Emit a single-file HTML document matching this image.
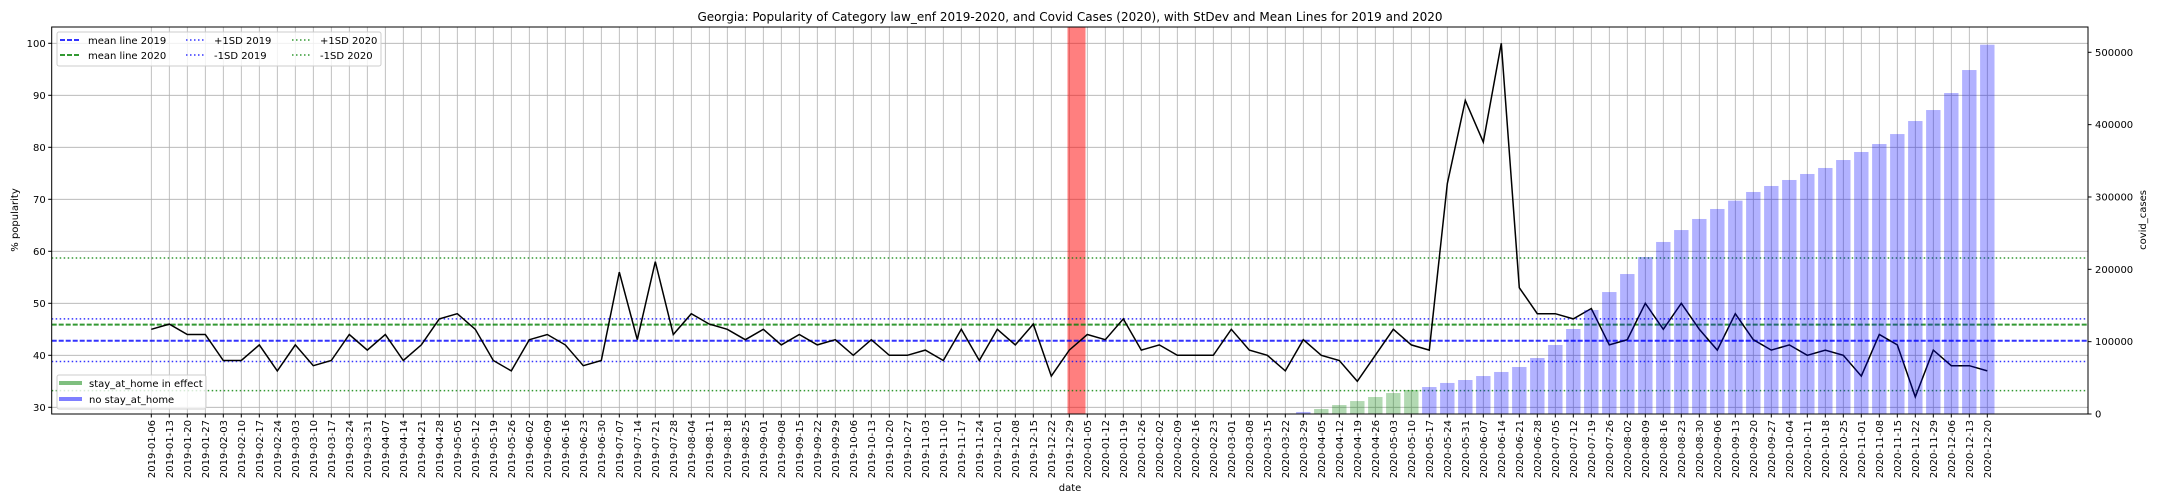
<!DOCTYPE html>
<html><head><meta charset="utf-8"><style>
html,body{margin:0;padding:0;background:#fff;}
svg{display:block;font-family:"DejaVu Sans","Liberation Sans",sans-serif;}
</style></head><body>
<svg id="chart" width="2160" height="504" xmlns="http://www.w3.org/2000/svg">
<rect x="0" y="0" width="2160" height="504" fill="#fff"/>
<text x="1070" y="21" font-size="12" text-anchor="middle">Georgia: Popularity of Category law_enf 2019-2020, and Covid Cases (2020), with StDev and Mean Lines for 2019 and 2020</text>
<g id="grid"></g>
<g id="marks"></g>
<g id="axes"></g>
<text x="1070" y="491" font-size="10" text-anchor="middle">date</text>
<text transform="translate(18,220) rotate(-90)" font-size="10" text-anchor="middle">% popularity</text>
<text transform="translate(2146,220) rotate(-90)" font-size="10" text-anchor="middle">covid_cases</text>
<g>
<rect x="57" y="32" width="324" height="34" fill="#fff" fill-opacity="0.8" stroke="#ccc" rx="2"/>
<g><line x1="60" y1="40" x2="80" y2="40" stroke="#0000ff" stroke-opacity="0.8" stroke-width="2" stroke-dasharray="5,2"/><text x="88" y="44" font-size="10">mean line 2019</text></g>
<g><line x1="60" y1="55" x2="80" y2="55" stroke="#008000" stroke-opacity="0.8" stroke-width="2" stroke-dasharray="5,2"/><text x="88" y="59" font-size="10">mean line 2020</text></g>
<g><line x1="186" y1="40" x2="204" y2="40" stroke="#0000ff" stroke-opacity="0.8" stroke-width="1.5" stroke-dasharray="1.5,2.5"/><text x="214" y="44" font-size="10">+1SD 2019</text></g>
<g><line x1="186" y1="55" x2="204" y2="55" stroke="#0000ff" stroke-opacity="0.8" stroke-width="1.5" stroke-dasharray="1.5,2.5"/><text x="214" y="59" font-size="10">-1SD 2019</text></g>
<g><line x1="292" y1="40" x2="310" y2="40" stroke="#008000" stroke-opacity="0.8" stroke-width="1.5" stroke-dasharray="1.5,2.5"/><text x="320" y="44" font-size="10">+1SD 2020</text></g>
<g><line x1="292" y1="55" x2="310" y2="55" stroke="#008000" stroke-opacity="0.8" stroke-width="1.5" stroke-dasharray="1.5,2.5"/><text x="320" y="59" font-size="10">-1SD 2020</text></g>
</g>
<g>
<rect x="57" y="375" width="149" height="34" fill="#fff" fill-opacity="0.8" stroke="#ccc" rx="2"/>
<g><line x1="59" y1="383" x2="82" y2="383" stroke="#008000" stroke-opacity="0.5" stroke-width="4"/><text x="89" y="387" font-size="10">stay_at_home in effect</text></g>
<g><line x1="59" y1="399" x2="82" y2="399" stroke="#0000ff" stroke-opacity="0.5" stroke-width="4"/><text x="89" y="403" font-size="10">no stay_at_home</text></g>
</g>
</svg>
<script>
const popularity = [45,46,44,44,39,39,42,37,42,38,39,44,41,44,39,42,47,48,45,39,37,43,44,42,38,39,
56,43,58,44,48,46,45,43,45,42,44,42,43,40,43,40,40,41,39,45,39,45,42,46,36,41,
44,43,47,41,42,40,40,40,45,41,40,37,43,40,39,35,40,45,42,41,73,89,81,100,53,48,48,47,49,42,43,50,45,50,45,41,48,43,41,42,40,41,40,36,44,42,32,41,38,38,37];
const covidCases = [2800,6900,12400,17900,23500,29000,33200,37300,42900,47000,52500,58100,65000,77400,95400,117500,143800,168600,193500,217000,237800,254300,269600,283400,294900,306900,315200,323500,331800,340100,351100,362200,373200,387000,405000,420200,443700,475500,510500];
const covidStartIndex = [64];
const stayAtHomeIdx = [65,66,67,68,69,70];
const statLines2019 = [42.8,47.0,38.8];
const statLines2020 = [45.9,58.7,33.2];
const leftTicks = [30,40,50,60,70,80,90,100];
const rightTicks = [0,100000,200000,300000,400000,500000];
const rightTickLabels = ["0","100000","200000","300000","400000","500000"];
const redSpanIdx = [50.9,51.9];

const NS="http://www.w3.org/2000/svg";
const L=51.7,R=2088,T=27,B=414;
function xPos(i){return 151.3+18*i;}
function yPop(v){return 407.3-(v-30)*5.2;}
function yCov(c){return 414-c*(361.7/500000);}
function mk(tag,attrs,parent){const e=document.createElementNS(NS,tag);for(const k in attrs)e.setAttribute(k,attrs[k]);parent.appendChild(e);return e;}
const grid=document.getElementById('grid'),marks=document.getElementById('marks'),axes=document.getElementById('axes');

const dates=[];
{let d=new Date(Date.UTC(2019,0,6));for(let i=0;i<popularity.length;i++){dates.push(d.toISOString().slice(0,10));d=new Date(d.getTime()+7*86400000);}}

for(let i=0;i<dates.length;i++){
  const g=mk('line',{x1:xPos(i),x2:xPos(i),y1:T,y2:B,stroke:'#b0b0b0','stroke-width':0.8},grid);
  
  
}
for(const v of leftTicks){
  const g=mk('line',{x1:L,x2:R,y1:yPop(v),y2:yPop(v),stroke:'#b0b0b0','stroke-width':0.8},grid);
  
  
}
// red span
const span=mk('rect',{x:xPos(redSpanIdx[0]),y:T,width:xPos(redSpanIdx[1])-xPos(redSpanIdx[0]),height:B-T,fill:'#ff0000','fill-opacity':0.5},marks);


// stat lines
const statDefs=[[statLines2019,'#0000ff'],[statLines2020,'#008000']];
statDefs.forEach(([arr,col],k)=>{
  arr.forEach((v,j)=>{
    const ln=mk('line',{x1:L,x2:R,y1:yPop(v),y2:yPop(v),stroke:col,'stroke-opacity':0.8,'stroke-width':j===0?2:1.5,'stroke-dasharray':j===0?'5,2':'1.5,2.5'},marks);
    
    
  });
});
// popularity line
const pts=popularity.map((v,i)=>xPos(i).toFixed(1)+','+yPop(v).toFixed(1)).join(' ');
const pl=mk('polyline',{points:pts,fill:'none',stroke:'#000','stroke-width':1.5,'stroke-linejoin':'miter'},marks);


// bars
covidCases.forEach((c,k)=>{
  const i=covidStartIndex[0]+k;
  const green=stayAtHomeIdx.includes(i);
  const b=mk('rect',{x:xPos(i)-7.2,y:yCov(c),width:14.4,height:B-yCov(c),fill:green?'#008000':'#0000ff','fill-opacity':0.3},marks);
  
  
});
// axes frame
const fr=mk('rect',{x:L,y:T,width:R-L,height:B-T,fill:'none',stroke:'#000','stroke-width':1},axes);


for(const v of leftTicks){
  const t=mk('line',{x1:L-3.5,x2:L,y1:yPop(v),y2:yPop(v),stroke:'#000'},axes);
  
  
  const tx=mk('text',{x:L-6,y:yPop(v)+3.5,'font-size':10,'text-anchor':'end'},axes);
  tx.textContent=v;
  
  
}
rightTicks.forEach((v,j)=>{
  const t=mk('line',{x1:R,x2:R+3.5,y1:yCov(v),y2:yCov(v),stroke:'#000'},axes);
  
  
  const tx=mk('text',{x:R+7,y:yCov(v)+3.5,'font-size':10},axes);
  tx.textContent=rightTickLabels[j];
  
  
});
dates.forEach((d,i)=>{
  const t=mk('line',{x1:xPos(i),x2:xPos(i),y1:B,y2:B+3.5,stroke:'#000'},axes);
  
  
  const tx=mk('text',{transform:`translate(${xPos(i)+3.5},${B+6}) rotate(-90)`,'font-size':10,'text-anchor':'end'},axes);
  tx.textContent=d;
  
  
});
</script>
</body></html>
